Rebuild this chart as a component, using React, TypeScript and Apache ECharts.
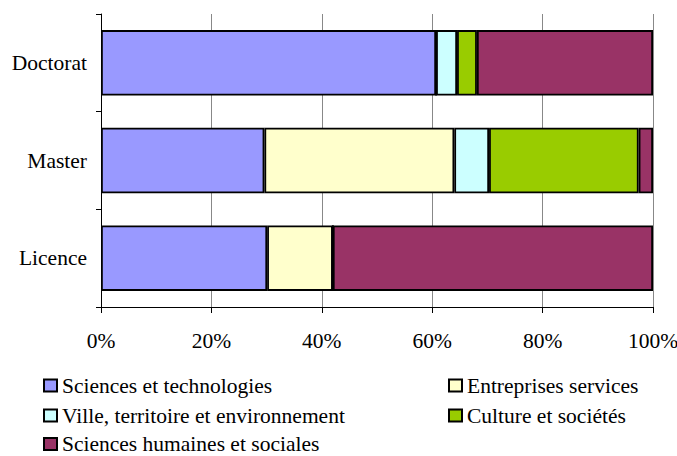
import React, { useEffect, useRef } from "react";
import * as echarts from "echarts";

const categories = ["Licence", "Master", "Doctorat"];
const seriesNames = [
  "Sciences et technologies",
  "Entreprises services",
  "Ville, territoire et environnement",
  "Culture et sociétés",
  "Sciences humaines et sociales",
];
// values in % for [Licence, Master, Doctorat]
const sciencesTech = [30.1, 29.6, 60.7];
const entreprises = [11.9, 34.4, 0];
const ville = [0, 6.3, 3.8];
const culture = [0, 27.1, 3.6];
const humaines = [58.0, 2.6, 31.9];
const colors = ["#9999FF", "#FFFFCC", "#CCFFFF", "#99CC00", "#993366"];
const xTicks = [0, 20, 40, 60, 80, 100];

const FONT = "Liberation Serif";
const FS = 21.5;

export default function App() {
  const ref = useRef<HTMLDivElement>(null);
  useEffect(() => {
    if (!ref.current) return;
    const chart = echarts.init(ref.current, undefined, { renderer: "svg" });
    const values = [sciencesTech, entreprises, ville, culture, humaines];
    const legendText = { fontFamily: FONT, fontSize: FS, lineHeight: 19, color: "#000" };
    const legendCommon = {
      orient: "horizontal",
      itemWidth: 13,
      itemHeight: 12,
      icon: "rect",
      padding: 0,
      textStyle: legendText,
      itemStyle: { borderColor: "#000", borderWidth: 2 },
    };
    // legend placement: [left, top] per series
    const legendPos = [
      [43, 374.5],
      [448, 374.5],
      [43, 404.5],
      [448, 404.5],
      [43, 433],
    ];
    chart.setOption({
      animation: false,
      textStyle: { fontFamily: FONT },
      grid: { left: 101, right: 24, top: 14, bottom: 149, containLabel: false, outerBoundsMode: "none" },
      xAxis: {
        type: "value",
        min: xTicks[0],
        max: xTicks[xTicks.length - 1],
        interval: 20,
        axisLine: { show: true, lineStyle: { color: "#000", width: 1 } },
        axisTick: { show: true, length: 6, lineStyle: { color: "#000" } },
        axisLabel: { formatter: "{value}%", fontSize: FS, color: "#000", margin: 23, fontFamily: FONT },
        splitLine: { show: true, lineStyle: { color: "#888", width: 1 } },
      },
      yAxis: {
        type: "category",
        data: categories,
        axisLine: { show: true, lineStyle: { color: "#000", width: 1 } },
        axisTick: { show: true, length: 5, alignWithLabel: false, lineStyle: { color: "#000" } },
        axisLabel: { fontSize: FS, color: "#000", margin: 14, fontFamily: FONT },
        splitLine: { show: false },
      },
      legend: seriesNames.map((name, i) => ({
        ...legendCommon,
        left: legendPos[i][0],
        top: legendPos[i][1],
        data: [name],
      })),
      series: seriesNames.map((name, i) => ({
        name,
        type: "bar",
        stack: "total",
        barWidth: "67%",
        data: values[i],
        itemStyle: { color: colors[i], borderColor: "#000", borderWidth: 1.8 },
      })),
    });
    return () => chart.dispose();
  }, []);
  return (
    <div
      ref={ref}
      style={{ position: "fixed", left: 0, top: 0, width: 677, height: 456, background: "#fff" }}
    />
  );
}
